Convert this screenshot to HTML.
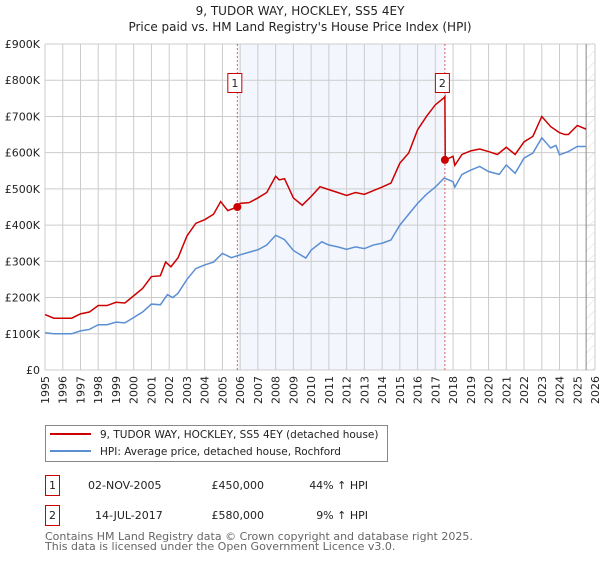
<!DOCTYPE html>
<html><head><meta charset="utf-8"><style>
body{margin:0;background:#fff;width:600px;height:560px;overflow:hidden;font-family:"DejaVu Sans","Liberation Sans",sans-serif}
svg text{font-family:"DejaVu Sans","Liberation Sans",sans-serif}
</style></head><body>
<svg id="chart" width="600" height="560" xmlns="http://www.w3.org/2000/svg">
<text x="300" y="15" text-anchor="middle" font-size="12" fill="#222">9, TUDOR WAY, HOCKLEY, SS5 4EY</text>
<text x="300" y="31" text-anchor="middle" font-size="12" fill="#222">Price paid vs. HM Land Registry's House Price Index (HPI)</text>
<g id="grid"></g><g id="series"></g><g id="axes"></g>
<g>
<rect x="45.5" y="425.5" width="342" height="36" fill="#fff" stroke="#888"/>
<line x1="50" y1="434" x2="91" y2="434" stroke="#cc0000" stroke-width="2"/>
<text x="100" y="438" font-size="10.5" fill="#222">9, TUDOR WAY, HOCKLEY, SS5 4EY (detached house)</text>
<line x1="50" y1="451" x2="91" y2="451" stroke="#5b8fd4" stroke-width="2"/>
<text x="100" y="455" font-size="10.5" fill="#222">HPI: Average price, detached house, Rochford</text>
</g>
<g>
<rect x="45.5" y="475.5" width="14" height="20" fill="#fff" stroke="#cc0000"/>
<text x="52.5" y="489" text-anchor="middle" font-size="11" fill="#222">1</text>
<text x="88" y="489" font-size="11" fill="#222">02-NOV-2005</text>
<text x="264" y="489" text-anchor="end" font-size="11" fill="#222">£450,000</text>
<text x="368" y="489" text-anchor="end" font-size="11" fill="#222">44% ↑ HPI</text>
</g>
<g>
<rect x="45.5" y="505.5" width="14" height="20" fill="#fff" stroke="#cc0000"/>
<text x="52.5" y="519" text-anchor="middle" font-size="11" fill="#222">2</text>
<text x="95" y="519" font-size="11" fill="#222">14-JUL-2017</text>
<text x="264" y="519" text-anchor="end" font-size="11" fill="#222">£580,000</text>
<text x="368" y="519" text-anchor="end" font-size="11" fill="#222">9% ↑ HPI</text>
</g>
<text x="45" y="540" font-size="11" fill="#666">Contains HM Land Registry data © Crown copyright and database right 2025.</text>
<text x="45" y="550" font-size="11" fill="#666">This data is licensed under the Open Government Licence v3.0.</text>
</svg>
<script>
const hpiYears=[1995,1995.5,1996,1996.5,1997,1997.5,1998,1998.5,1999,1999.5,2000,2000.5,2001,2001.5,2001.9,2002.2,2002.5,2003,2003.5,2004,2004.5,2005,2005.5,2006,2006.5,2007,2007.5,2008,2008.5,2009,2009.7,2010,2010.6,2011,2011.5,2012,2012.5,2013,2013.5,2014,2014.5,2015,2015.5,2016,2016.5,2017,2017.5,2018,2018.1,2018.5,2019,2019.5,2020,2020.6,2021,2021.5,2022,2022.5,2023,2023.5,2023.8,2024,2024.5,2025,2025.5];
const hpiValues=[103,100,100,100,108,112,125,125,132,130,145,160,182,180,208,200,212,250,280,290,298,322,310,318,325,332,345,372,360,330,309,331,354,345,340,333,340,335,345,350,359,400,430,460,485,505,530,520,505,540,552,562,548,540,566,543,585,599,641,613,620,594,603,617,617];
const priceYears=[1995,1995.5,1996,1996.5,1997,1997.5,1998,1998.5,1999,1999.5,2000,2000.5,2001,2001.5,2001.8,2002.1,2002.5,2003,2003.5,2004,2004.5,2004.9,2005.3,2005.84,2006,2006.5,2007,2007.5,2008,2008.2,2008.5,2009,2009.5,2010,2010.5,2011,2011.5,2012,2012.5,2013,2013.5,2014,2014.5,2015,2015.5,2016,2016.5,2017,2017.5,2017.54,2017.56,2018,2018.1,2018.5,2019,2019.5,2020,2020.5,2021,2021.5,2022,2022.5,2023,2023.5,2024,2024.3,2024.5,2025,2025.5];
const priceValues=[153,143,143,143,155,160,178,178,187,185,205,225,258,260,298,285,310,370,405,415,430,465,440,450,460,462,475,490,535,525,528,475,455,479,506,498,490,482,490,485,495,505,516,571,599,663,700,732,752,755,580,590,565,595,605,610,603,595,615,595,630,645,700,672,655,650,650,675,665];
const saleYears=[2005.84,2017.54];
const saleValues=[450,580];
const saleLabels=["1","2"];
const yTicks=[0,100,200,300,400,500,600,700,800,900];
const yTickLabels=["£0","£100K","£200K","£300K","£400K","£500K","£600K","£700K","£800K","£900K"];
const xTicks=[1995,1996,1997,1998,1999,2000,2001,2002,2003,2004,2005,2006,2007,2008,2009,2010,2011,2012,2013,2014,2015,2016,2017,2018,2019,2020,2021,2022,2023,2024,2025,2026];
const NS="http://www.w3.org/2000/svg";
const L=45,R=595,T=44,B=370;
const X=y=>L+(y-1995)*(R-L)/31;
const Y=v=>B-v*(B-T)/900;
function mk(tag,attrs,parent){const e=document.createElementNS(NS,tag);for(const k in attrs)e.setAttribute(k,attrs[k]);parent.appendChild(e);return e;}
const grid=document.getElementById('grid'),ser=document.getElementById('series'),ax=document.getElementById('axes');
const sh=mk('rect',{x:X(saleYears[0]),y:T,width:X(saleYears[1])-X(saleYears[0]),height:B-T,fill:'#eef2fc',opacity:0.7},grid);


const defs=mk('defs',{},grid);
const pat=mk('pattern',{id:'hatch',width:8,height:8,patternUnits:'userSpaceOnUse',patternTransform:'rotate(45)'},defs);
mk('line',{x1:0,y1:0,x2:0,y2:8,stroke:'#ddd','stroke-width':1},pat);
const hz=mk('rect',{x:X(2025.5),y:T,width:R-X(2025.5),height:B-T,fill:'url(#hatch)'},grid);


yTicks.forEach((v,i)=>{
  const g=mk('line',{x1:L,x2:R,y1:Y(v),y2:Y(v),stroke:'#ccc','stroke-width':1},grid);
  
  
  const t=mk('text',{x:L-5,y:Y(v)+4,'text-anchor':'end','font-size':11,fill:'#222'},ax);
  t.textContent=yTickLabels[i];
  
  
});
xTicks.forEach(yr=>{
  const g=mk('line',{x1:X(yr),x2:X(yr),y1:T,y2:B,stroke:'#ccc','stroke-width':1},grid);
  
  
  const t=mk('text',{x:X(yr)+4,y:B+6,'text-anchor':'end','font-size':11,fill:'#222',transform:`rotate(-90 ${X(yr)+4} ${B+6})`},ax);
  t.textContent=yr;
  
  
});
const edge=mk('line',{x1:X(2025.5),x2:X(2025.5),y1:T,y2:B,stroke:'#888','stroke-width':1},grid);


saleYears.forEach((yr,i)=>{
  const v=mk('line',{x1:X(yr),x2:X(yr),y1:T,y2:B,stroke:'#e06060','stroke-width':1,'stroke-dasharray':'2,2'},grid);
  
  
});
const hp=mk('polyline',{points:hpiYears.map((y,i)=>X(y)+','+Y(hpiValues[i])).join(' '),fill:'none',stroke:'#5b8fd4','stroke-width':1.5},ser);


const pp=mk('polyline',{points:priceYears.map((y,i)=>X(y)+','+Y(priceValues[i])).join(' '),fill:'none',stroke:'#cc0000','stroke-width':1.5},ser);


saleYears.forEach((yr,i)=>{
  const c=mk('circle',{cx:X(yr),cy:Y(saleValues[i]),r:4,fill:'#cc0000'},ser);
  
  
  const b=mk('rect',{x:X(yr)-9.5,y:73.5,width:14,height:19,fill:'#fff',stroke:'#cc0000'},ser);
  
  
  const t=mk('text',{x:X(yr)-2.5,y:87,'text-anchor':'middle','font-size':11,fill:'#222'},ser);
  t.textContent=saleLabels[i];
  
  
});
</script>
</body></html>
